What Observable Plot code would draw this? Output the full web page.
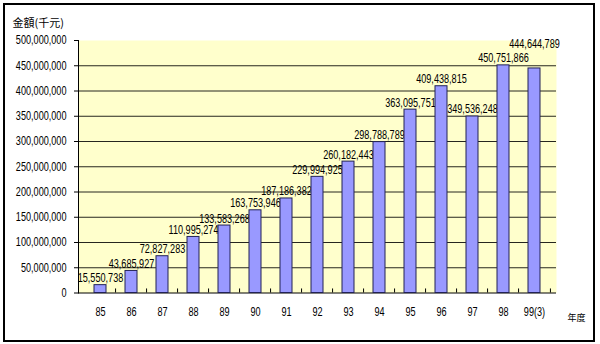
<!DOCTYPE html>
<html>
<head>
<meta charset="utf-8">
<script src="https://cdn.jsdelivr.net/npm/d3@7"></script>
<script src="https://cdn.jsdelivr.net/npm/@observablehq/plot@0.6"></script>
<style>
  html, body { margin: 0; padding: 0; background: #fff; }
  #wrap { position: relative; width: 600px; height: 344px; overflow: hidden; }
  #wrap svg { position: absolute; left: 0; top: 0; }
  #border { position: absolute; left: 3px; top: 3px; width: 588px; height: 335px; border: 2px solid #000; pointer-events: none; }
</style>
</head>
<body>
<div id="wrap"><div id="border"></div></div>
<script>
const years = ["85","86","87","88","89","90","91","92","93","94","95","96","97","98","99(3)"];
const amounts = [15550738, 43685927, 72827283, 110995274, 133583268, 163753946, 187186382, 229994925, 260182443, 298788789, 363095751, 409438815, 349536248, 450751866, 444644789];
const yTicks = [0, 50000000, 100000000, 150000000, 200000000, 250000000, 300000000, 350000000, 400000000, 450000000, 500000000];
const yTitle = "金額(千元)";
const xTitle = "年度";

const data = years.map((y, i) => ({year: y, value: amounts[i]}));
const fmt = d3.format(",");
const numFont = "'Liberation Sans', Arial, sans-serif";
const cjkFont = "'Noto Sans CJK TC', sans-serif";

const W = 600, H = 344, mL = 78, mR = 44, mT = 40, mB = 51.5;
const step = (W - mL - mR) / years.length;

const chart = Plot.plot({
  width: W,
  height: H,
  marginLeft: mL,
  marginRight: mR,
  marginTop: mT,
  marginBottom: mB,
  style: {fontFamily: numFont, fontSize: "12px", color: "#000", background: "transparent"},
  x: {domain: years, paddingInner: 0.61, paddingOuter: 0.305, label: null},
  y: {domain: [0, 500000000], label: null},
  marks: [
    Plot.frame({fill: "#ffffcc", stroke: null}),
    Plot.gridY(yTicks.filter(t => t > 0 && t < 500000000), {stroke: "#000", strokeOpacity: 0.85, strokeWidth: 1}),
    Plot.frame({anchor: "left", stroke: "#000"}),
    Plot.ruleY([0], {stroke: "#000"}),
    Plot.ruleX(years.slice(1), {x: d => d, dx: -step / 2, y1: 0, y2: 8000000, stroke: "#000"}),
    Plot.ruleX(years.slice(-1), {x: d => d, dx: step / 2, y1: 0, y2: 8000000, stroke: "#000"}),
    Plot.axisY({ticks: yTicks, tickFormat: fmt, tickSize: 4, tickPadding: 8, fontSize: 12}),
    Plot.axisX({tickSize: 0, tickPadding: 14, fontSize: 12}),
    Plot.text(data.slice(0, -1), {x: "year", y: "value", text: d => fmt(d.value), lineAnchor: "bottom", dy: -3, fontSize: 12, fill: "#000"}),
    Plot.text(data.slice(-1), {x: "year", y: "value", text: d => fmt(d.value), lineAnchor: "bottom", dy: -20, fontSize: 12, fill: "#000"}),
    Plot.barY(data, {x: "year", y: "value", fill: "#9999ff", stroke: "#222255", strokeWidth: 1}),
    Plot.text([yTitle], {frameAnchor: "top-left", text: d => d, dx: -66, dy: -21, textAnchor: "start", fontSize: 11, fontFamily: cjkFont}),
    Plot.text([xTitle], {frameAnchor: "bottom-right", text: d => d, dx: 11, dy: 28, textAnchor: "start", fontSize: 9, fontFamily: cjkFont})
  ]
});
document.getElementById("wrap").prepend(chart);

// Condense numeric labels (narrow font look), scaling horizontally about each label's anchor point
chart.querySelectorAll("text").forEach(t => {
  if (!/^[0-9,()]+$/.test(t.textContent)) return;
  const x0 = parseFloat(t.getAttribute("x")) || 0;
  const tr = t.getAttribute("transform") || "";
  t.setAttribute("transform", `${tr} translate(${x0},0) scale(0.76,1) translate(${-x0},0)`.trim());
});
</script>
</body>
</html>
